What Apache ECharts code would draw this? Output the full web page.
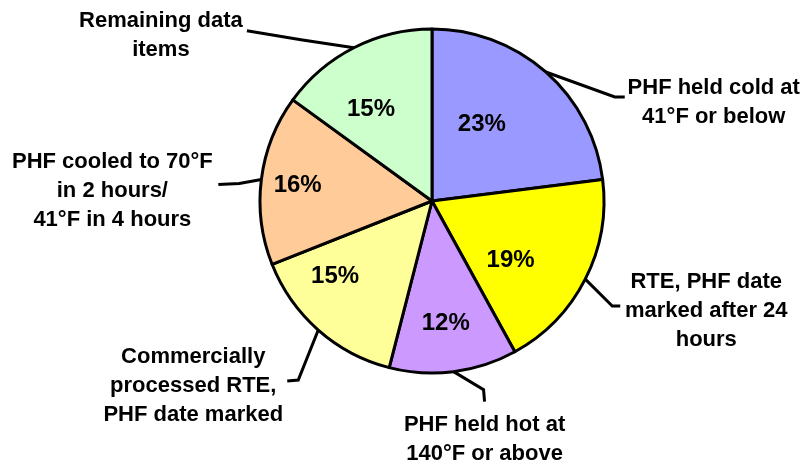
<!DOCTYPE html>
<html>
<head>
<meta charset="utf-8">
<script src="https://cdn.jsdelivr.net/npm/echarts@6/dist/echarts.min.js"></script>
<style>
  html, body { margin: 0; background: #fff; }
  #chart { width: 806px; height: 468px; }
</style>
</head>
<body>
<div id="chart"></div>
<script>
// slices, clockwise from 12 o'clock
const names = [
  "PHF held cold at\n41°F or below",
  "RTE, PHF date\nmarked after 24\nhours",
  "PHF held hot at\n140°F or above",
  "Commercially\nprocessed RTE,\nPHF date marked",
  "PHF cooled to 70°F\nin 2 hours/\n41°F in 4 hours",
  "Remaining data\nitems"
];
const values = [23, 19, 12, 15, 16, 15];
const colors = ["#9999ff", "#ffff00", "#cc99ff", "#ffff99", "#ffcc99", "#ccffcc"];

// pie geometry (px)
const CX = 432, CY = 201, R = 172;
const FONT = "'Liberation Sans', Arial, sans-serif";

// shift of each % label from the half-radius point
const innerShift = [[-7, -12], [2, 20], [3, 37], [-40, 11], [-49, -5], [-22, -15]];
// leader bend, leader end and label centre, relative to the slice edge point
const outerLayout = [
  { bend: [69, 25], end: [79, 25], text: [168, 30] },
  { bend: [27, 27], end: [35, 27], text: [121, 32] },
  { bend: [30, 18], end: [31, 30], text: [31, 68] },
  { bend: [-20, 50], end: [-31, 51], text: [-125, 56] },
  { bend: [-22, 4], end: [-43, 5], text: [-149, 11] },
  { bend: [-53, -8], end: [-107, -17], text: [-193, -12] }
];

const total = values.reduce((a, b) => a + b, 0);
const midAngles = [];
let acc = 0;
values.forEach((v) => {
  const frac = (acc + v / 2) / total;
  midAngles.push(Math.PI / 2 - frac * 2 * Math.PI);
  acc += v;
});

function pointAt(i, radius) {
  return [CX + radius * Math.cos(midAngles[i]), CY - radius * Math.sin(midAngles[i])];
}

const data = values.map((v, i) => ({ name: names[i], value: v }));

const chart = echarts.init(document.getElementById("chart"));
chart.setOption({
  animation: false,
  color: colors,
  series: [
    {
      type: "pie",
      center: [CX, CY],
      radius: R,
      startAngle: 90,
      clockwise: true,
      silent: true,
      data: data,
      itemStyle: { borderColor: "#000", borderWidth: 3 },
      label: {
        position: "inside",
        formatter: (p) => p.value + "%",
        color: "#000",
        fontFamily: FONT,
        fontWeight: "bold",
        fontSize: 24
      },
      labelLine: { show: false },
      labelLayout: (p) => {
        const c = pointAt(p.dataIndex, R / 2);
        const s = innerShift[p.dataIndex];
        return { x: c[0] + s[0], y: c[1] + s[1], align: "center", verticalAlign: "middle" };
      }
    },
    {
      type: "pie",
      center: [CX, CY],
      radius: R,
      startAngle: 90,
      clockwise: true,
      silent: true,
      data: data,
      itemStyle: { color: "rgba(0,0,0,0)", borderWidth: 0 },
      label: {
        position: "outside",
        formatter: "{b}",
        color: "#000",
        fontFamily: FONT,
        fontWeight: "bold",
        fontSize: 22,
        lineHeight: 29,
        align: "center",
        overflow: "none",
        width: 300
      },
      labelLine: { show: true, lineStyle: { color: "#000", width: 3 } },
      labelLayout: (p) => {
        const i = p.dataIndex;
        const e = pointAt(i, R);
        const l = outerLayout[i];
        return {
          x: e[0] + l.text[0],
          y: e[1] + l.text[1],
          align: "center",
          verticalAlign: "middle",
          labelLinePoints: [
            e,
            [e[0] + l.bend[0], e[1] + l.bend[1]],
            [e[0] + l.end[0], e[1] + l.end[1]]
          ]
        };
      }
    }
  ]
});
</script>
</body>
</html>
